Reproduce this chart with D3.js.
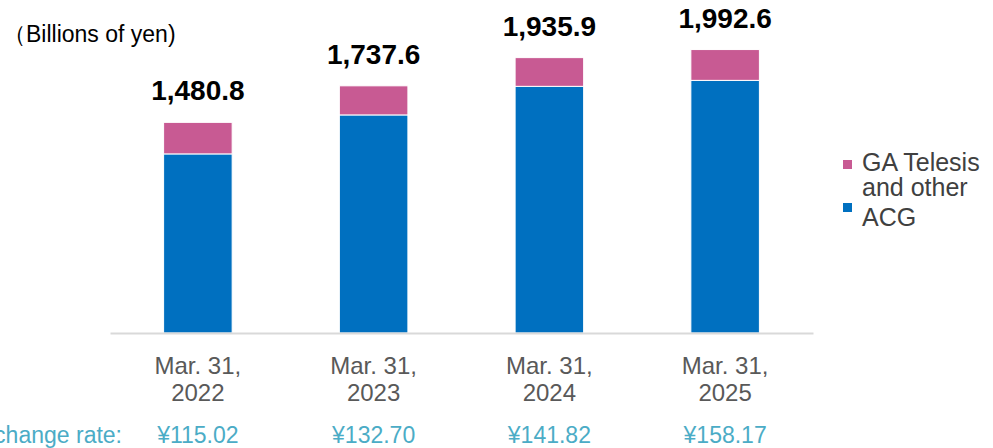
<!DOCTYPE html>
<html><head><meta charset="utf-8">
<script src="https://cdn.jsdelivr.net/npm/d3@7"></script>
<style>body{margin:0;background:#fff}svg{display:block;font-family:Arial,"Liberation Sans",sans-serif}</style>
</head><body>
<svg id="c" width="993" height="448"></svg>
<script>
const categories = ["Mar. 31,\n2022","Mar. 31,\n2023","Mar. 31,\n2024","Mar. 31,\n2025"];
const totals = [1480.8, 1737.6, 1935.9, 1992.6];
const acg = [1259, 1533, 1734, 1776];
const other = totals.map((t,i)=>+(t-acg[i]).toFixed(1));
const rates = ["¥115.02","¥132.70","¥141.82","¥158.17"];
const seriesNames = ["GA Telesis\nand other","ACG"];
const colors = {acg:"#0070C0", other:"#C85A93"};

const svg = d3.select("#c");
const x = d3.scaleBand().domain(categories).range([110,813]).paddingInner(0.61).paddingOuter(0.305);
const y = d3.scaleLinear().domain([0,2000]).range([333,48.5]);

const stack = categories.map((c,i)=>({c, acg:acg[i], other:other[i], total:totals[i]}));
const g = svg.append("g");
g.selectAll("rect.acg").data(stack).join("rect")
  .attr("x",d=>x(d.c)).attr("width",x.bandwidth())
  .attr("y",d=>y(d.acg)).attr("height",d=>y(0)-y(d.acg))
  .attr("fill",colors.acg).attr("stroke","#fff").attr("stroke-width",1);
g.selectAll("rect.oth").data(stack).join("rect")
  .attr("x",d=>x(d.c)).attr("width",x.bandwidth())
  .attr("y",d=>y(d.total)).attr("height",d=>y(d.acg)-y(d.total))
  .attr("fill",colors.other).attr("stroke","#fff").attr("stroke-width",1);

const ax = svg.append("g").attr("transform",`translate(0,${y(0)})`)
  .call(d3.axisBottom(x).tickSize(0).tickFormat(""));
ax.select(".domain").attr("stroke","#D9D9D9").attr("stroke-width",2);

const cl = svg.append("g").selectAll("text").data(categories).join("text")
  .attr("text-anchor","middle").attr("fill","#595959").attr("font-size",24)
  .attr("x",d=>x(d)+x.bandwidth()/2).attr("y",374);
cl.selectAll("tspan").data(d=>d.split("\n")).join("tspan")
  .attr("x",function(){return this.parentNode.getAttribute("x");})
  .attr("dy",(d,i)=>i?27:0).text(d=>d);

svg.append("g").selectAll("text").data(stack).join("text")
  .attr("text-anchor","middle").attr("font-weight","bold").attr("font-size",28)
  .attr("fill","#000").attr("x",d=>x(d.c)+x.bandwidth()/2).attr("y",d=>y(d.total)-22)
  .text(d=>d3.format(",.1f")(d.total));

const rateColor = "#4BACC6";
svg.append("text").attr("x",122).attr("y",443).attr("text-anchor","end")
  .attr("fill",rateColor).attr("font-size",23).text("Exchange rate:");
svg.append("g").selectAll("text").data(rates).join("text")
  .attr("text-anchor","middle").attr("fill",rateColor).attr("font-size",23)
  .attr("x",(d,i)=>x(categories[i])+x.bandwidth()/2).attr("y",443).text(d=>d);

svg.append("text").attr("x",3).attr("y",42).attr("font-size",23).attr("fill","#000").text("（Billions of yen)");

const leg = svg.append("g");
const legItems = [{name:seriesNames[0], color:colors.other, y:160, ty:[171,196]},{name:seriesNames[1], color:colors.acg, y:203, ty:[226]}];
legItems.forEach(it=>{
  leg.append("rect").attr("x",843).attr("y",it.y).attr("width",9).attr("height",9).attr("fill",it.color);
  const t = leg.append("text").attr("font-size",25).attr("fill","#404040");
  it.name.split("\n").forEach((s,i)=>t.append("tspan").attr("x",862).attr("y",it.ty[i]).text(s));
});
</script>
</body></html>
